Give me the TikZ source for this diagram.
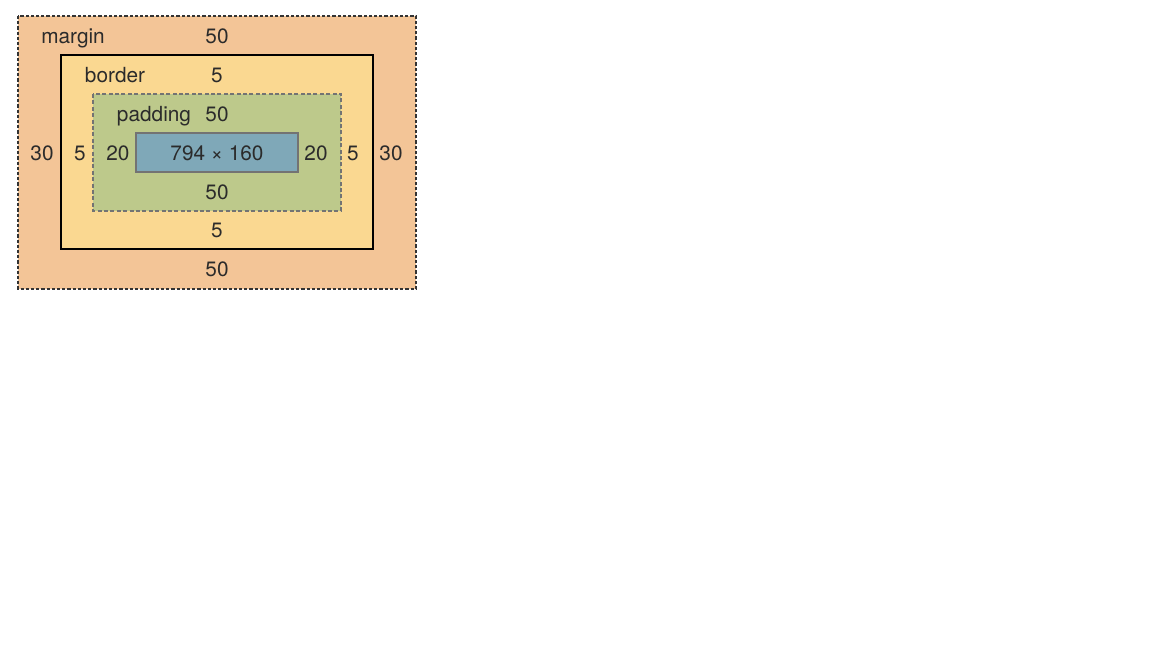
\documentclass[tikz,border=0pt]{standalone}
\usepackage{fontspec}
\setmainfont{TeX Gyre Heros}
\usepackage{xcolor}
\usepackage{tikz}
\usetikzlibrary{positioning}

\definecolor{marginc}{HTML}{F3C597}
\definecolor{borderc}{HTML}{FAD891}
\definecolor{paddingc}{HTML}{BDC98B}
\definecolor{contentc}{HTML}{7FA8B8}
\definecolor{txt}{HTML}{2B2B2B}

\begin{document}
\begin{tikzpicture}[x=0.5pt, y=-0.5pt, font=\fontsize{10.4}{12}\selectfont, text=txt,
  lbl/.style={inner sep=0pt, anchor=base, yshift=-3.6pt}]
\useasboundingbox (0,0) rectangle (1152,648);

% boxes
\draw[fill=marginc, draw=black!80, line width=0.7pt, dash pattern=on 1.6pt off 1pt] (18,16) rectangle (416,289);
\draw[fill=borderc, draw=black, line width=0.9pt] (61,55) rectangle (373,249);
\draw[fill=paddingc, draw=black!55, line width=0.6pt, dash pattern=on 2pt off 1.2pt] (93,94) rectangle (341,211);
\draw[fill=contentc, draw=black!55, line width=0.7pt] (136,133) rectangle (298,172);

% labels
\node[lbl] (marginlbl) at (73,36) {margin};
\node[lbl] (margintop) at (217,36) {50};
\node[lbl] (borderlbl) at (115,75) {border};
\node[lbl] (bordertop) at (217,75) {5};
\node[lbl] (paddinglbl) at (154,114) {padding};
\node[lbl] (paddingtop) at (217,114) {50};

\node[lbl] (content) at (217,153) {794 × 160};
\node[lbl] (marginleft) at (42,153) {30};
\node[lbl] (borderleft) at (80,153) {5};
\node[lbl] (paddingleft) at (118,153) {20};
\node[lbl] (paddingright) at (316,153) {20};
\node[lbl] (borderright) at (353,153) {5};
\node[lbl] (marginright) at (391,153) {30};

\node[lbl] (paddingbot) at (217,192) {50};
\node[lbl] (borderbot) at (217,230) {5};
\node[lbl] (marginbot) at (217,269) {50};

\end{tikzpicture}
\end{document}
